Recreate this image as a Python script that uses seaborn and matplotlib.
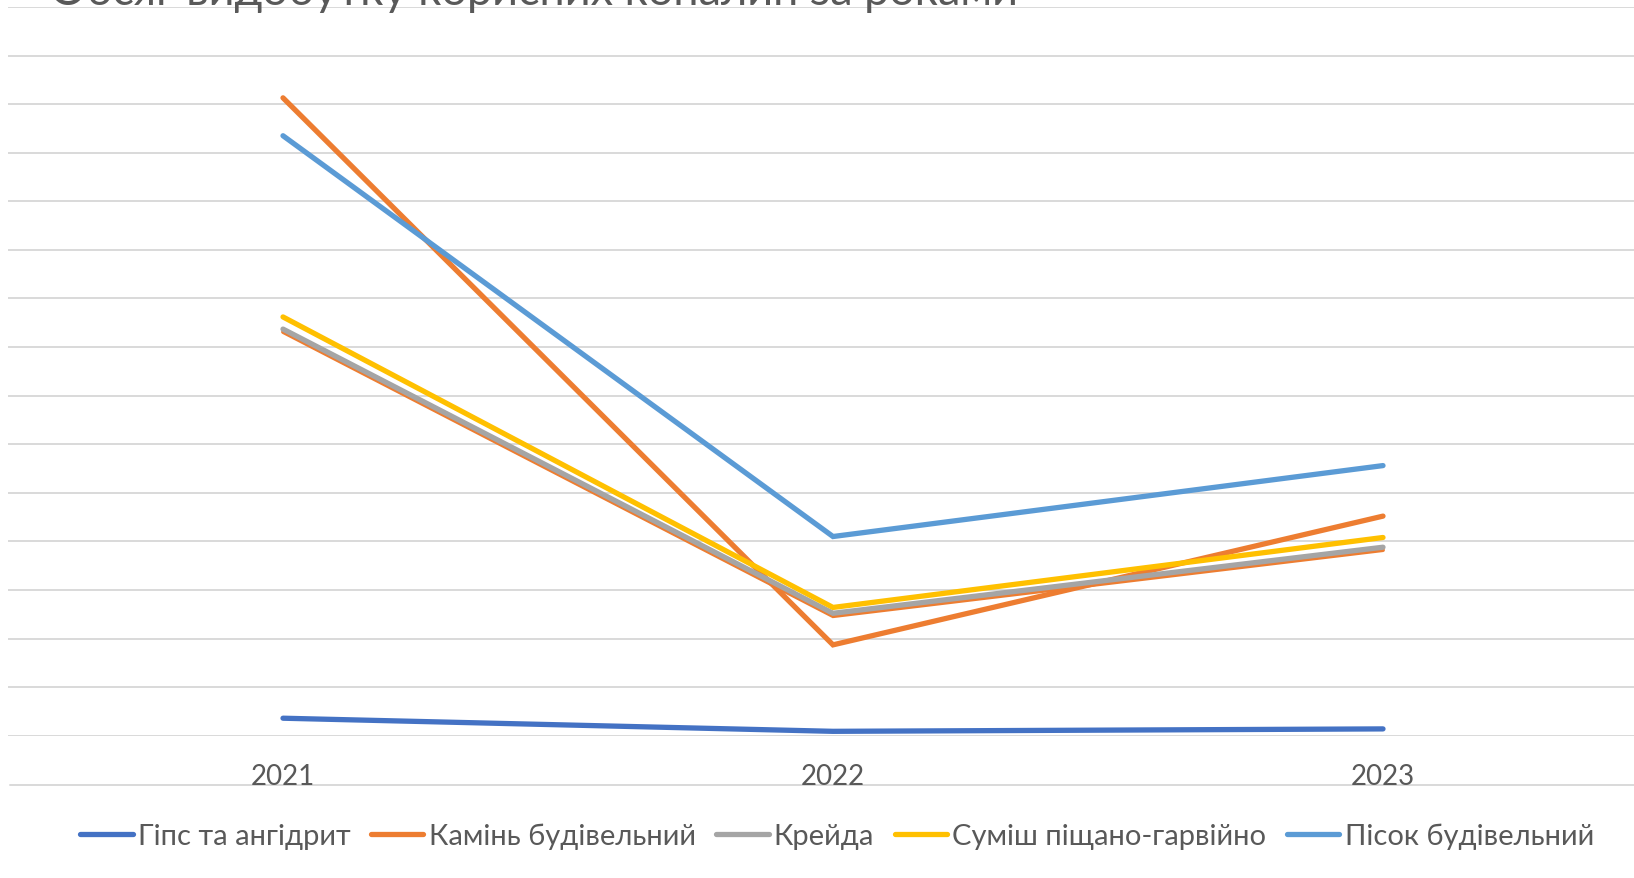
import pandas as pd
import matplotlib.pyplot as plt
from matplotlib.lines import Line2D
import seaborn as sns

# Дані (умовні одиниці)
years = ["2021", "2022", "2023"]
gips = [0.36, 0.09, 0.14]
kamin = [13.13, 1.87, 4.52]
kreyda = [8.37, 2.52, 3.88]
kreyda_edge = [8.31, 2.46, 3.82]   # тонка помаранчева лінія під сірою
sumish = [8.62, 2.64, 4.08]
pisok = [12.35, 4.10, 5.56]

series = ["Гіпс та ангідрит", "Камінь будівельний", "_edge", "Крейда",
          "Суміш піщано-гарвійно", "Пісок будівельний"]
values = [gips, kamin, kreyda_edge, kreyda, sumish, pisok]
colors = ["#4472C4", "#ED7D31", "#ED7D31", "#A5A5A5", "#FFC000", "#5B9BD5"]

rows = []
for name, vals in zip(series, values):
    for i, v in enumerate(vals):
        rows.append({"x": i, "year": years[i], "series": name, "value": v})
df = pd.DataFrame(rows)

sns.set_style("white")
plt.rcParams['font.family'] = ['Lato', 'DejaVu Sans']

fig = plt.figure(figsize=(16.34, 8.79), dpi=100)
ax = fig.add_axes([8 / 1634, 1 - 736.7 / 879, 1650 / 1634, (736.7 - 8) / 879])

for name, col in zip(series, colors):
    sub = df[df["series"] == name]
    lw = 2.8 if name == "_edge" else 3.8
    sns.lineplot(data=sub, x="x", y="value", color=col, lw=lw, ax=ax,
                 label=name, legend=False, solid_capstyle="round",
                 solid_joinstyle="miter")

ax.set_xlim(-0.5, 2.5)
ax.set_ylim(0, 15)
ax.set_yticks(range(0, 16))
ax.set_yticklabels([])
ax.set_xticks(range(len(years)))
ax.set_xticklabels(years, fontsize=20, color="#595959")
ax.tick_params(axis="x", length=0, pad=20)
ax.tick_params(axis="y", length=0)
ax.grid(axis="y", color="#d9d9d9", lw=1.4)
ax.set_axisbelow(True)
ax.set_xlabel("")
ax.set_ylabel("")
for s in ax.spines.values():
    s.set_visible(False)

# нижня лінія під підписами
fig.add_artist(Line2D([10 / 1634, 1], [1 - 786 / 879] * 2,
                      color="#d9d9d9", lw=1.4, zorder=0))

# заголовок (обрізаний зверху, як у вихідному зображенні)
fig.text(50 / 1634, 1 - 5 / 879, "Обсяг видобутку корисних копалин за роками",
         fontsize=32.5, color="#595959", va="baseline", ha="left")

handles = [Line2D([], [], color=c, lw=3.8, solid_capstyle="round")
           for n, c in zip(series, colors) if n != "_edge"]
labels = [n for n in series if n != "_edge"]
fig.legend(handles, labels, loc="center", bbox_to_anchor=(837 / 1634, 1 - 837 / 879),
           ncol=5, frameon=False, fontsize=21, handlelength=1.8,
           handletextpad=0.18, columnspacing=0.7, labelcolor="#595959")

fig.savefig("out.png", dpi=100)
